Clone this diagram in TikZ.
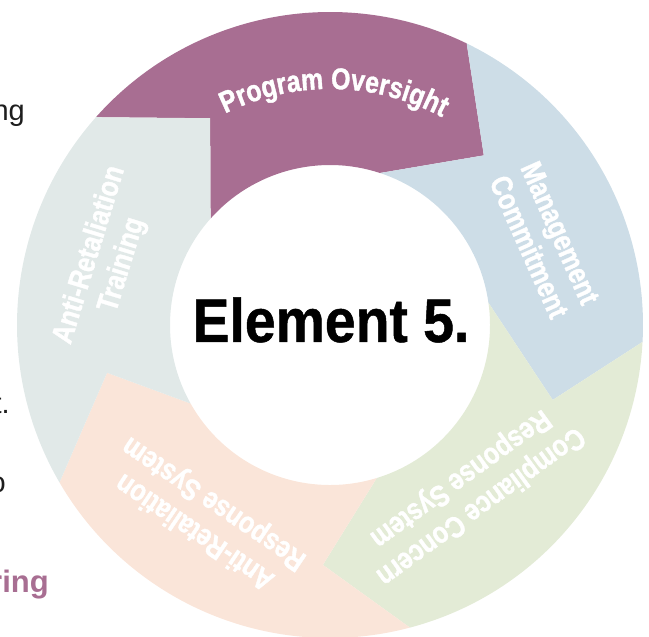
\documentclass[tikz,border=0pt]{standalone}
\usepackage{fontspec}
\setmainfont{Liberation Sans}
\newfontfamily\lblfont[FakeStretch=0.83,BoldFeatures={FakeBold=1.2}]{Liberation Sans}
\newfontfamily\bigfont[FakeStretch=0.9,BoldFeatures={FakeBold=0.8}]{Liberation Sans}
\usetikzlibrary{decorations.text}
\definecolor{oversight}{HTML}{A86E92}
\definecolor{commit}{HTML}{CDDDE7}
\definecolor{concern}{HTML}{E3EBD6}
\definecolor{response}{HTML}{FAE5D9}
\definecolor{training}{HTML}{E1E9E8}
\definecolor{bodytext}{HTML}{1E1E1E}
\begin{document}
\begin{tikzpicture}[x=1pt,y=1pt,line join=round,
  lbl/.style={text=white,font=\lblfont\bfseries\fontsize{30}{34}\selectfont,align=center,inner sep=0pt},
  side/.style={text=bodytext,font=\fontsize{29}{34}\selectfont,inner sep=0pt,anchor=base east}]
\useasboundingbox (-330,-312) rectangle (319,325);
\coordinate (tipA) at (120.1:239);
\coordinate (tipB) at (47.8:229);
\coordinate (tipC) at (-18.6:235);
\coordinate (tipD) at (-91.7:240);
\coordinate (tipE) at (192.1:228);
\fill[oversight] (138.4:313) arc[start angle=138.4,end angle=64.1,radius=313] -- (tipB) -- (71.8:160) arc[start angle=71.8,end angle=138.3,radius=160] -- (tipA) -- cycle;
\fill[commit] (64.1:313) arc[start angle=64.1,end angle=-3.1,radius=313] -- (tipC) -- (8:160) arc[start angle=8,end angle=71.8,radius=160] -- (tipB) -- cycle;
\fill[concern] (-3.1:313) arc[start angle=-3.1,end angle=-75.2,radius=313] -- (tipD) -- (-73:160) arc[start angle=-73,end angle=8,radius=160] -- (tipC) -- cycle;
\fill[response] (-75.2:313) arc[start angle=-75.2,end angle=-149.8,radius=313] -- (tipE) -- (-150.6:160) arc[start angle=-150.6,end angle=-73,radius=160] -- (tipD) -- cycle;
\fill[training] (210.2:313) arc[start angle=210.2,end angle=138.4,radius=313] -- (tipA) -- (138.3:160) arc[start angle=138.3,end angle=209.4,radius=160] -- (tipE) -- cycle;
\path[decorate,decoration={text along path,text align=center,text color=white,
  text={|\lblfont\bfseries\fontsize{30}{34}\selectfont|Program Oversight}}]
  (124:236) arc[start angle=124,end angle=54,radius=236];
\node[lbl,rotate=-66] (mgmt) at (21.6:231) {Management\\Commitment};
\node[lbl,rotate=-144] (concern) at (-50:218) {Compliance Concern\\Response System};
\node[lbl,rotate=146] (arsys) at (236.9:229) {Anti-Retaliation\\Response System};
\node[lbl,rotate=73] (artrain) at (163.8:233) {Anti-Retaliation\\Training};
\node[font=\bigfont\bfseries\fontsize{61.5}{70}\selectfont,anchor=base,inner sep=0pt] (elem) at (1,-17) {Element 5.};
\node[side] (ng) at (-305,204) {ng};
\node[side] (dot) at (-320,-89) {t.};
\node[side] (o) at (-324,-168) {o};
\node[side,text=oversight,font=\bfseries\fontsize{31}{36}\selectfont] (ring) at (-281,-268) {ring};
\end{tikzpicture}
\end{document}
